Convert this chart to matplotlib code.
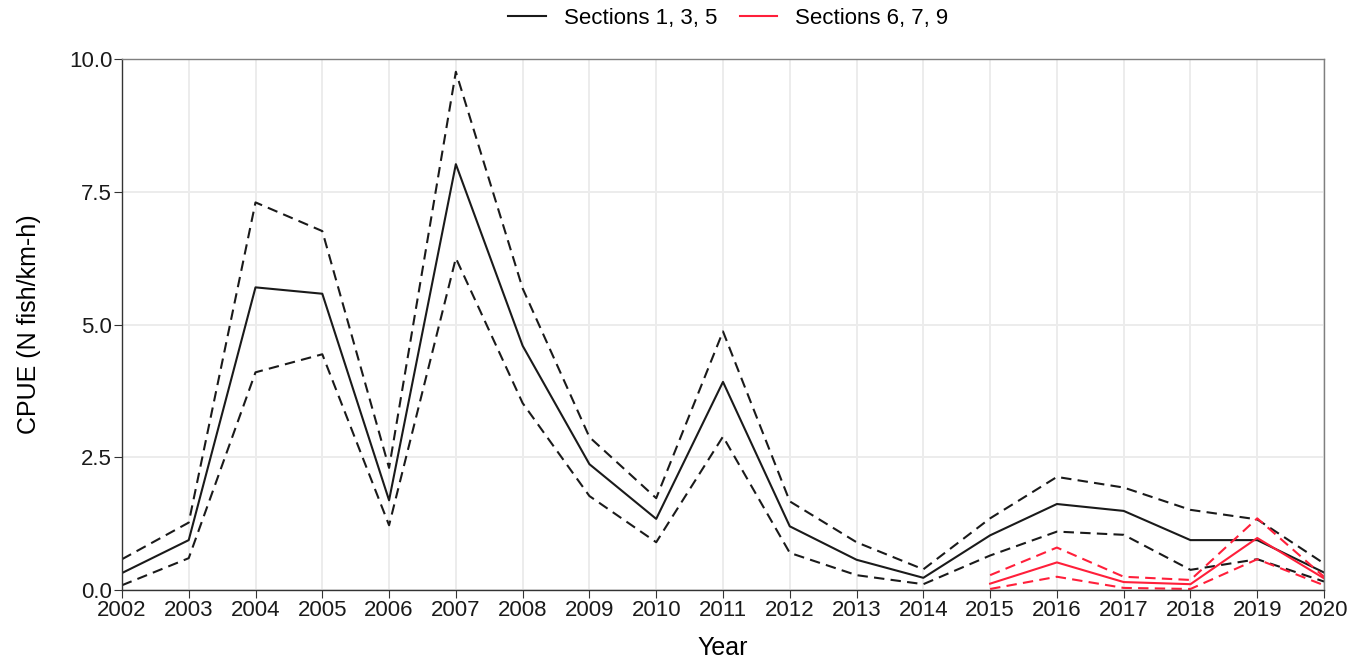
import matplotlib
matplotlib.use('Agg')
import matplotlib.pyplot as plt
from matplotlib.lines import Line2D

plt.rcParams['font.family'] = ['Liberation Sans', 'DejaVu Sans']

# Sections 1, 3, 5
years_a = list(range(2002, 2021))
cpue_a = [0.32, 0.94, 5.70, 5.58, 1.69, 8.02, 4.60, 2.37, 1.34, 3.92,
          1.20, 0.57, 0.23, 1.03, 1.62, 1.49, 0.94, 0.94, 0.33]
upper_a = [0.58, 1.27, 7.30, 6.76, 2.30, 9.76, 5.68, 2.88, 1.73, 4.87,
           1.67, 0.90, 0.39, 1.35, 2.13, 1.93, 1.51, 1.33, 0.50]
lower_a = [0.09, 0.60, 4.10, 4.44, 1.22, 6.25, 3.52, 1.77, 0.90, 2.89,
           0.70, 0.28, 0.11, 0.65, 1.10, 1.04, 0.38, 0.58, 0.16]

# Sections 6, 7, 9
years_b = list(range(2015, 2021))
cpue_b = [0.12, 0.52, 0.15, 0.11, 0.98, 0.22]
upper_b = [0.28, 0.80, 0.25, 0.19, 1.35, 0.25]
lower_b = [0.02, 0.25, 0.04, 0.02, 0.58, 0.09]

black = '#1a1a1a'
red = '#ff1f3a'

fig = plt.figure(figsize=(13.64, 6.64), dpi=100)
ax = fig.add_axes([0.0894, 0.1114, 0.8813, 0.7997])

ax.plot(years_a, cpue_a, color=black, linewidth=1.5)
ax.plot(years_a, upper_a, color=black, linewidth=1.5, linestyle=(0, (5, 3)))
ax.plot(years_a, lower_a, color=black, linewidth=1.5, linestyle=(0, (5, 3)))

ax.plot(years_b, cpue_b, color=red, linewidth=1.5)
ax.plot(years_b, upper_b, color=red, linewidth=1.5, linestyle=(0, (5, 3)))
ax.plot(years_b, lower_b, color=red, linewidth=1.5, linestyle=(0, (5, 3)))

ax.set_xlim(2002, 2020)
ax.set_ylim(0, 10)
ax.set_xticks(years_a)
ax.set_yticks([0, 2.5, 5, 7.5, 10])
ax.set_yticklabels(['0.0', '2.5', '5.0', '7.5', '10.0'])
ax.grid(True, color='#ececec', linewidth=1.4)
ax.set_axisbelow(True)

for s in ax.spines.values():
    s.set_color('#7f7f7f')
    s.set_linewidth(1.0)
ax.spines['left'].set_color('#333333')
ax.spines['bottom'].set_color('#333333')

ax.tick_params(axis='both', labelsize=16, length=6, color='#333333', labelcolor='#1a1a1a', pad=1)
ax.set_xlabel('Year', fontsize=18, labelpad=11)
ax.set_ylabel('CPUE (N fish/km-h)', fontsize=18, labelpad=20)

handles = [Line2D([], [], color=black, linewidth=1.5),
           Line2D([], [], color=red, linewidth=1.5)]
fig.legend(handles, ['Sections 1, 3, 5', 'Sections 6, 7, 9'], loc='center',
           bbox_to_anchor=(0.534, 0.972), ncol=2, frameon=False, fontsize=16,
           handlelength=1.7, handletextpad=0.8, columnspacing=1.0)

fig.savefig('out.png', dpi=100)
